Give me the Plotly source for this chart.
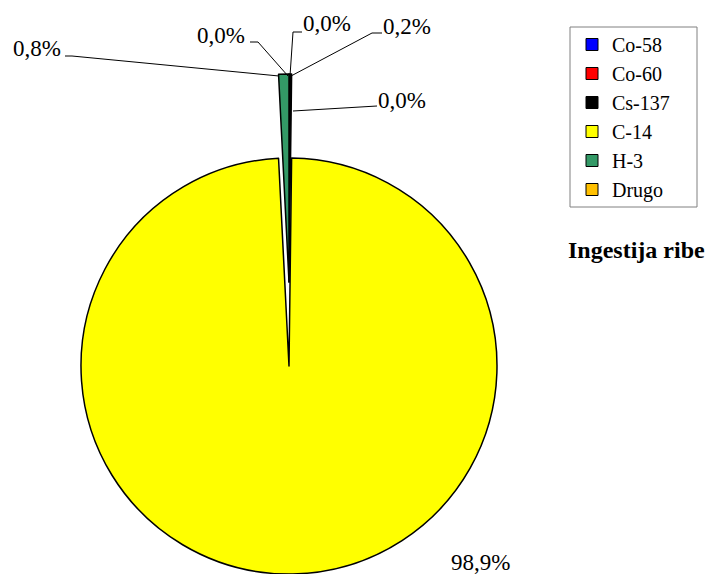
import plotly.graph_objects as go

# ---- data ----
labels = ["Co-58", "Co-60", "Cs-137", "C-14", "H-3", "Drugo"]
values = [0.0, 0.0, 0.2, 98.9, 0.8, 0.0]
colors = ["#0000FF", "#FF0000", "#000000", "#FFFF00", "#339966", "#FFC000"]
pulled = ["Cs-137", "H-3"]
title_text = "Ingestija ribe"

W, H = 707, 574
FONT = "Liberation Serif"


def px(x, y):
    return x / W, 1 - y / H


# pie geometry (pixels)
cx, cy, r = 289, 366, 208
pull_px = 84
LW = 1.5

def dom(cx_, cy_, r_):
    return dict(x=[(cx_ - r_) / W, (cx_ + r_) / W],
                y=[max(0, (H - cy_ - r_) / H), min(1, (H - cy_ + r_) / H)])

transparent = "rgba(0,0,0,0)"

main_colors = [transparent if (l in pulled or v == 0) else c for l, c, v in zip(labels, colors, values)]
main_lw = [0 if (l in pulled or v == 0) else LW for l, v in zip(labels, values)]
pull_colors = [c if l in pulled else transparent for l, c in zip(labels, colors)]
pull_lw = [LW if l in pulled else 0 for l in labels]

fig = go.Figure()
# legend-only tiny pie hidden behind legend box
fig.add_trace(go.Pie(labels=labels, values=[1] * len(labels), sort=False, direction="clockwise",
                     marker=dict(colors=colors, line=dict(color="black", width=1)),
                     textinfo="none", hoverinfo="skip", showlegend=True,
                     domain=dom(640, 150, 0.3)))
fig.add_trace(go.Pie(labels=labels, values=values, sort=False, direction="clockwise",
                     marker=dict(colors=main_colors, line=dict(color="black", width=main_lw)),
                     textinfo="none", hoverinfo="skip", showlegend=False,
                     domain=dom(cx, cy, r)))
fig.add_trace(go.Pie(labels=labels, values=values, sort=False, direction="clockwise",
                     marker=dict(colors=pull_colors, line=dict(color="black", width=pull_lw)),
                     textinfo="none", hoverinfo="skip", showlegend=False,
                     domain=dom(cx, cy - pull_px, r)))

def fmt(v):
    return f"{v:.1f}%".replace(".", ",")

# label placement (pixels) and leader lines
label_pos = {
    "Co-58": (327, 24),
    "Co-60": (402, 100),
    "Cs-137": (407, 27),
    "C-14": (480, 562),
    "H-3": (37, 49),
    "Drugo": (221, 35),
}
leaders = {
    "Co-58": [(302, 32), (293, 32), (290, 76)],
    "Co-60": [(377, 106), (293, 111)],
    "Cs-137": [(382, 33), (372, 33), (291, 76)],
    "H-3": [(65, 56), (72, 56), (279, 76)],
    "Drugo": [(250, 42), (258, 42), (288, 76)],
}

for l, v in zip(labels, values):
    x, y = px(*label_pos[l])
    fig.add_annotation(x=x, y=y, xref="paper", yref="paper", text=fmt(v), showarrow=False,
                       font=dict(family=FONT, size=23, color="black"),
                       xanchor="center", yanchor="middle")
    if l in leaders:
        pts = [px(a, b) for a, b in leaders[l]]
        path = "M " + " L ".join(f"{a},{b}" for a, b in pts)
        fig.add_shape(type="path", path=path, xref="paper", yref="paper",
                      line=dict(color="black", width=1))

# legend frame
fx0, fy0 = px(570, 27)
fx1, fy1 = px(697, 207)
fig.add_shape(type="rect", x0=fx0, y0=fy1, x1=fx1, y1=fy0, xref="paper", yref="paper",
              line=dict(color="#808080", width=1), fillcolor="white", layer="above")

tx, ty = px(636, 250)
fig.add_annotation(x=tx, y=ty, xref="paper", yref="paper", text=f"<b>{title_text}</b>",
                   showarrow=False, font=dict(family=FONT, size=24, color="black"),
                   xanchor="center", yanchor="middle")

lx, ly = px(572, 25)
fig.update_layout(
    width=W, height=H,
    margin=dict(l=0, r=0, t=0, b=0),
    paper_bgcolor="white", plot_bgcolor="white",
    font=dict(family=FONT),
    legend=dict(x=lx, y=ly, xanchor="left", yanchor="top",
                bgcolor="rgba(0,0,0,0)", borderwidth=0,
                font=dict(family=FONT, size=20, color="black")),
)

fig.write_html("out.html", config={"displayModeBar": False},
               post_script="document.body.style.margin='0';")
